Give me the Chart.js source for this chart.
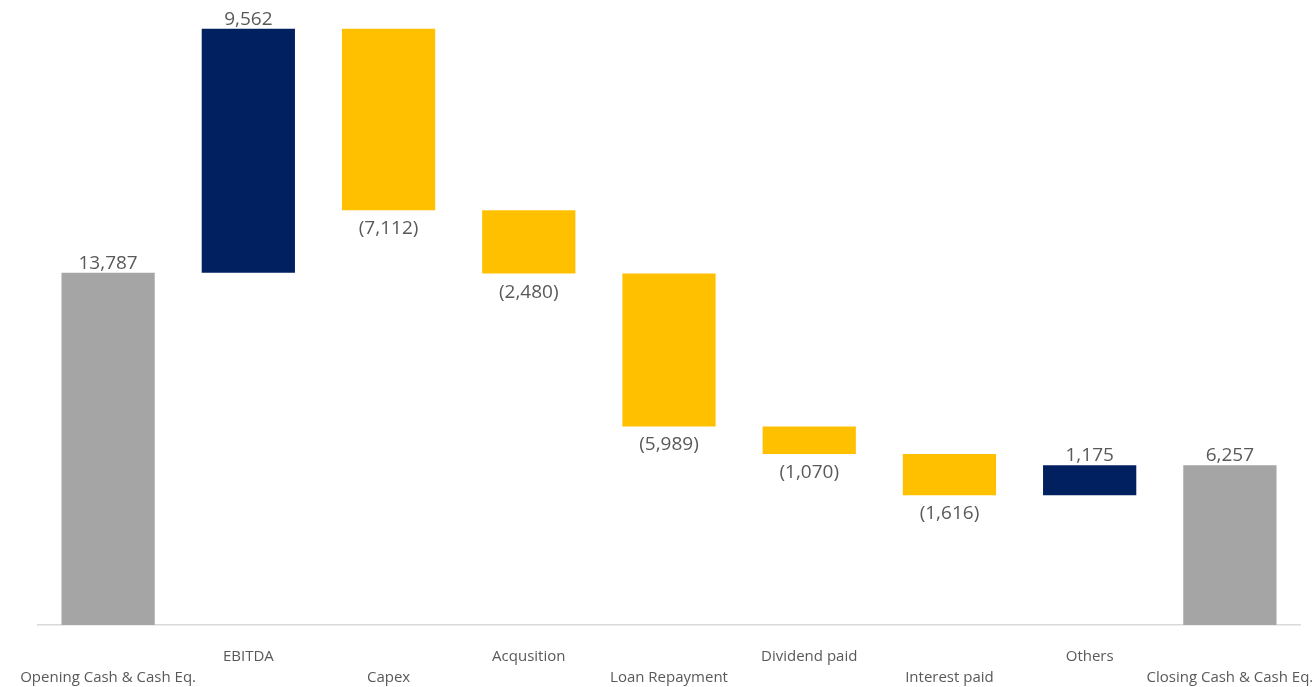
<!DOCTYPE html>
<html>
<head>
<meta charset="utf-8">
<script src="https://cdn.jsdelivr.net/npm/chart.js@4"></script>
<style>
  html, body { margin: 0; padding: 0; background: #fff; }
  #wrap { width: 1316px; height: 687px; }
</style>
</head>
<body>
<div id="wrap"><canvas id="myChart"></canvas></div>
<script>
// categories and cash-flow steps
const categories = ['Opening Cash & Cash Eq.', 'EBITDA', 'Capex', 'Acqusition', 'Loan Repayment',
                    'Dividend paid', 'Interest paid', 'Others', 'Closing Cash & Cash Eq.'];
const values = [13787, 9562, -7112, -2480, -5989, -1070, -1616, 1175, 6257];
const kinds = ['total', 'up', 'down', 'down', 'down', 'down', 'down', 'up', 'total'];

const colors = { total: '#A5A5A5', up: '#002060', down: '#FFC000' };

// build floating ranges from the steps
let running = 0;
const ranges = values.map((v, i) => {
  if (kinds[i] == 'total') {
    running = v;
    return [0, v];
  }
  const start = running;
  running += v;
  return [start, running];
});

// alternate labels on two rows
const xLabels = categories.map((c, i) => i % 2 == 0 ? ['', c] : [c]);

const fmt = v => {
  const s = Math.abs(v).toLocaleString('en-US');
  return v < 0 ? '(' + s + ')' : s;
};

const valueLabels = {
  id: 'valueLabels',
  afterDatasetsDraw(chart) {
    const ctx = chart.ctx;
    const meta = chart.getDatasetMeta(0);
    ctx.save();
    ctx.font = '19px "Open Sans"';
    ctx.fillStyle = '#595959';
    ctx.textAlign = 'center';
    meta.data.forEach((bar, i) => {
      const v = values[i];
      const top = Math.min(bar.y, bar.base);
      const bottom = Math.max(bar.y, bar.base);
      if (v < 0) {
        ctx.textBaseline = 'top';
        ctx.fillText(fmt(v), bar.x, bottom + 9);
      } else {
        ctx.textBaseline = 'bottom';
        ctx.fillText(fmt(v), bar.x, top);
      }
    });
    ctx.restore();
  }
};

new Chart('myChart', {
  type: 'bar',
  data: {
    labels: xLabels,
    datasets: [{
      data: ranges,
      backgroundColor: kinds.map(k => colors[k]),
      borderWidth: 0,
      barPercentage: 0.665,
      categoryPercentage: 1
    }]
  },
  options: {
    responsive: true,
    maintainAspectRatio: false,
    animation: false,
    layout: { padding: { top: 12, left: 38, right: 16, bottom: 0 } },
    plugins: {
      legend: { display: false },
      tooltip: { enabled: false }
    },
    scales: {
      x: {
        grid: { display: false, drawTicks: false },
        border: { display: true, color: '#D9D9D9', width: 1.5 },
        ticks: {
          color: '#595959',
          font: { family: 'Open Sans', size: 15, lineHeight: 1.4 },
          padding: 21,
          maxRotation: 0,
          autoSkip: false
        },
        afterFit: function(scale) {
          // long end labels may overhang the plot, as in the original
          scale.paddingLeft = 0;
          scale.paddingRight = 0;
          scale.height = 62;
        }
      },
      y: {
        display: false,
        min: 0,
        max: 24000
      }
    }
  },
  plugins: [valueLabels]
});
</script>
</body>
</html>
